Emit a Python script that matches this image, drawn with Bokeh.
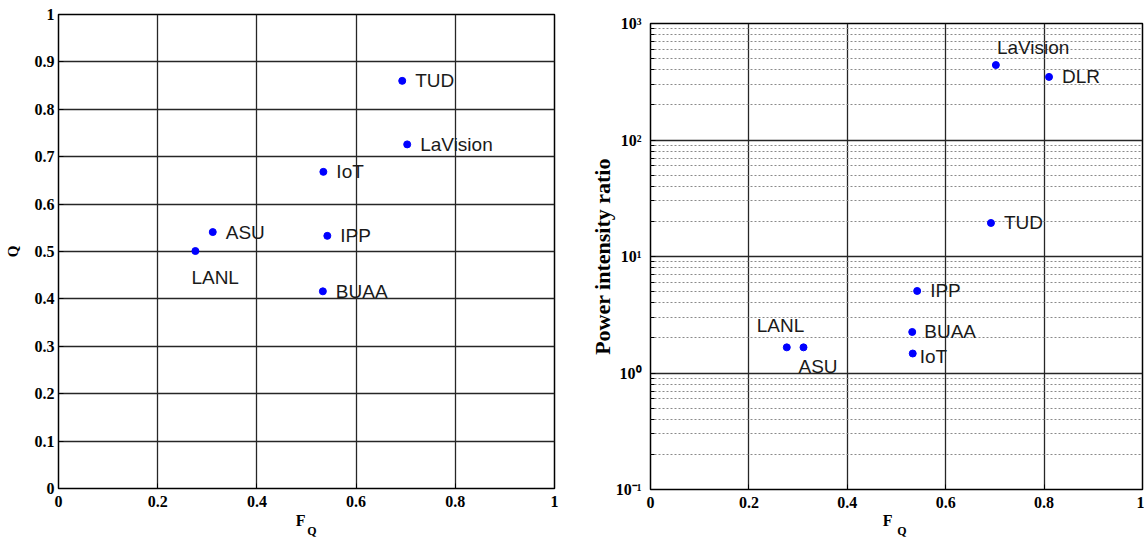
from bokeh.plotting import figure
from bokeh.layouts import row
from bokeh.models import ColumnDataSource, FixedTicker, Range1d, LinearAxis
from bokeh.core.properties import value
from bokeh.embed import file_html
from bokeh.resources import INLINE

# ---------------- data ----------------
left_names = ["TUD", "LaVision", "IoT", "ASU", "IPP", "LANL", "BUAA"]
left_fq = [0.693, 0.703, 0.534, 0.311, 0.542, 0.276, 0.533]
left_q = [0.860, 0.726, 0.668, 0.541, 0.533, 0.501, 0.416]

right_names = ["LaVision", "DLR", "TUD", "IPP", "BUAA", "IoT", "LANL", "ASU"]
right_fq = [0.702, 0.810, 0.692, 0.542, 0.532, 0.533, 0.277, 0.311]
right_pir = [440, 348, 19.4, 5.06, 2.25, 1.47, 1.66, 1.66]

x_ticks = [0, 0.2, 0.4, 0.6, 0.8, 1]
x_tick_labels = ["0", "0.2", "0.4", "0.6", "0.8", "1"]
q_ticks = [0, 0.1, 0.2, 0.3, 0.4, 0.5, 0.6, 0.7, 0.8, 0.9, 1]
q_tick_labels = ["0", "0.1", "0.2", "0.3", "0.4", "0.5", "0.6", "0.7", "0.8", "0.9", "1"]
pir_ticks = [0.1, 1, 10, 100, 1000]
pir_tick_labels = ["10\u207b\u00b9", "10\u2070", "10\u00b9", "10\u00b2", "10\u00b3"]
pir_minor = [m * d for d in (0.1, 1, 10, 100) for m in (2, 3, 4, 5, 6, 7, 8, 9)]

# label offsets in screen pixels (styling)
left_dx = [13, 13, 13, 13, 13, -4, 13]
left_dy = [0, 0, 0, 0, 0, 26, 0]
right_dx = [1, 13, 13, 13, 12, 7, -30, -5]
right_dy = [-18, 0, 0, 0, 0, 3, -22, 19]

SERIF = "Liberation Serif"
SANS = "Liberation Sans"


def style(p):
    p.outline_line_color = "black"
    p.outline_line_width = 1.5
    p.outline_line_alpha = 1
    p.background_fill_color = "white"
    p.border_fill_color = "white"
    for ax in (p.xaxis[0], p.yaxis[0]):
        ax.major_label_text_font = SERIF
        ax.major_label_text_font_style = "bold"
        ax.major_label_text_font_size = "16px"
        ax.major_label_text_color = "black"
        ax.axis_line_color = None
        ax.major_tick_in = 5
        ax.major_tick_out = 0
        ax.minor_tick_in = 0
        ax.minor_tick_out = 0
        ax.major_tick_line_color = "black"
        ax.axis_label_text_font = SERIF
        ax.axis_label_text_font_style = "bold"
        ax.axis_label_text_color = "black"
        ax.major_label_standoff = 4
    p.xaxis[0].major_label_standoff = 7
    for g in (p.xgrid[0], p.ygrid[0]):
        g.grid_line_color = "#262626"
        g.grid_line_width = 1.3


def text_axis(p, pos, txt, size, standoff):
    ax = LinearAxis(ticker=FixedTicker(ticks=[pos]), major_label_overrides={pos: txt},
                    major_tick_in=0, major_tick_out=0, minor_tick_in=0, minor_tick_out=0,
                    axis_line_color=None, major_label_standoff=standoff,
                    major_label_text_font=SERIF, major_label_text_font_style="bold",
                    major_label_text_font_size=size, major_label_text_color="black")
    p.add_layout(ax, "below")


# ---------------- left plot ----------------
p1 = figure(width=580, height=540, min_border_left=58, min_border_right=26,
            min_border_top=14, min_border_bottom=52, frame_align=False,
            x_range=Range1d(0, 1), y_range=Range1d(0, 1),
            output_backend="svg", toolbar_location=None, tools="")
style(p1)
p1.xaxis.ticker = FixedTicker(ticks=x_ticks)
p1.xaxis.major_label_overrides = dict(zip(x_ticks, x_tick_labels))
p1.yaxis.ticker = FixedTicker(ticks=q_ticks)
p1.yaxis.major_label_overrides = dict(zip(q_ticks, q_tick_labels))
p1.xgrid.ticker = FixedTicker(ticks=x_ticks)
p1.ygrid.ticker = FixedTicker(ticks=q_ticks)
p1.yaxis.axis_label = "Q"
p1.yaxis.axis_label_text_font_size = "15px"
p1.yaxis.axis_label_standoff = 11

src1 = ColumnDataSource(dict(x=left_fq, y=left_q, name=left_names, dx=left_dx, dy=left_dy))
p1.scatter("x", "y", source=src1, size=7, color="#0000ff")
p1.text("x", "y", text="name", source=src1, x_offset="dx", y_offset="dy",
        text_font=value(SANS), text_font_size="19px", text_color="#1a1a1a",
        text_baseline="middle", text_align="left")
text_axis(p1, 0.488, "F", "16px", 2)
text_axis(p1, 0.511, "Q", "12px", -8)

# ---------------- right plot ----------------
p2 = figure(width=564, height=540, min_border_left=70, min_border_right=2,
            min_border_top=23, min_border_bottom=51, frame_align=False,
            x_range=Range1d(0, 1), y_range=Range1d(0.1, 1000), y_axis_type="log",
            output_backend="svg", toolbar_location=None, tools="")
style(p2)
p2.xaxis.ticker = FixedTicker(ticks=x_ticks)
p2.xaxis.major_label_overrides = dict(zip(x_ticks, x_tick_labels))
yt = FixedTicker(ticks=pir_ticks, minor_ticks=pir_minor)
p2.yaxis.ticker = yt
p2.ygrid.ticker = yt
p2.xgrid.ticker = FixedTicker(ticks=x_ticks)
p2.yaxis.major_label_overrides = dict(zip(pir_ticks, pir_tick_labels))
p2.yaxis.major_label_standoff = 9
p2.yaxis.minor_tick_in = 4
p2.yaxis.minor_tick_line_color = "black"
p2.ygrid.minor_grid_line_color = "#8a8a8a"
p2.ygrid.minor_grid_line_dash = "2 2"
p2.ygrid.minor_grid_line_width = 1
p2.yaxis.axis_label = "Power intensity ratio"
p2.yaxis.axis_label_text_font_size = "22px"
p2.yaxis.axis_label_standoff = -2

src2 = ColumnDataSource(dict(x=right_fq, y=right_pir, name=right_names, dx=right_dx, dy=right_dy))
p2.scatter("x", "y", source=src2, size=7, color="#0000ff")
p2.text("x", "y", text="name", source=src2, x_offset="dx", y_offset="dy",
        text_font=value(SANS), text_font_size="19px", text_color="#1a1a1a",
        text_baseline="middle", text_align="left")
text_axis(p2, 0.482, "F", "16px", 1)
text_axis(p2, 0.511, "Q", "12px", -8)

layout = row(p1, p2)
open("out.html", "w").write(file_html(layout, INLINE))
